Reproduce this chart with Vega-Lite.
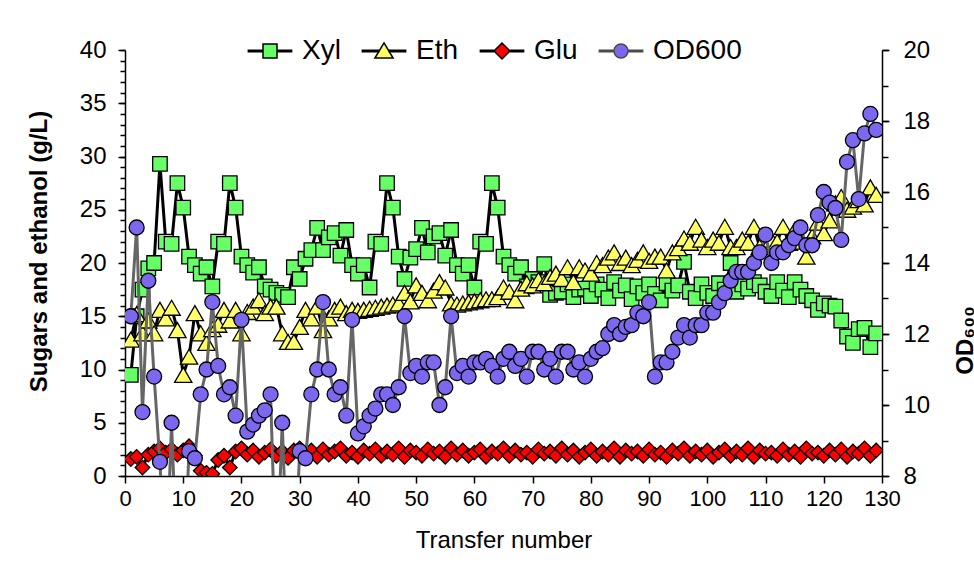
{
  "$schema": "https://vega.github.io/schema/vega-lite/v6.json",
  "autosize": "none",
  "padding": {"left": 125, "top": 50, "right": 92, "bottom": 86},
  "width": 757,
  "height": 426,
  "background": "#ffffff",
  "config": {
    "font": "Liberation Sans",
    "view": {"stroke": null},
    "axis": {"labelFont": "Liberation Sans", "titleFont": "Liberation Sans", "labelColor": "#000", "titleColor": "#000", "domainColor": "#000", "tickColor": "#000", "domainWidth": 1.5, "tickWidth": 1.5, "grid": false, "labelFontSize": 24, "titleFontSize": 24},
    "legend": {"labelFont": "Liberation Sans", "labelColor": "#000"}
  },
  "data": {"values": [
    {"t":1,"Xyl":9.5,"Eth":12.8,"Glu":1.6,"OD600":12.5},
    {"t":2,"Xyl":15.0,"Eth":15.2,"Glu":1.8,"OD600":15.0},
    {"t":3,"Xyl":17.5,"Eth":13.4,"Glu":0.8,"OD600":9.8},
    {"t":4,"Xyl":19.5,"Eth":14.6,"Glu":2.0,"OD600":13.5},
    {"t":5,"Xyl":20.0,"Eth":13.4,"Glu":2.3,"OD600":10.8},
    {"t":6,"Xyl":29.3,"Eth":15.6,"Glu":2.6,"OD600":8.4},
    {"t":7,"Xyl":22.0,"Eth":14.8,"Glu":2.2,"OD600":5},
    {"t":8,"Xyl":21.8,"Eth":15.8,"Glu":2.5,"OD600":9.5},
    {"t":9,"Xyl":27.5,"Eth":13.7,"Glu":2.0,"OD600":5},
    {"t":10,"Xyl":25.2,"Eth":9.5,"Glu":2.4,"OD600":5},
    {"t":11,"Xyl":20.6,"Eth":11.2,"Glu":2.8,"OD600":8.7},
    {"t":12,"Xyl":19.8,"Eth":15.3,"Glu":1.9,"OD600":8.5},
    {"t":13,"Xyl":19.0,"Eth":13.4,"Glu":0.5,"OD600":10.3},
    {"t":14,"Xyl":19.6,"Eth":12.5,"Glu":0.3,"OD600":11.0},
    {"t":15,"Xyl":17.8,"Eth":13.8,"Glu":0.2,"OD600":12.9},
    {"t":16,"Xyl":22.0,"Eth":14.2,"Glu":1.5,"OD600":11.1},
    {"t":17,"Xyl":21.8,"Eth":15.6,"Glu":1.9,"OD600":10.3},
    {"t":18,"Xyl":27.5,"Eth":14.6,"Glu":0.8,"OD600":10.5},
    {"t":19,"Xyl":25.2,"Eth":15.6,"Glu":2.3,"OD600":9.7},
    {"t":20,"Xyl":20.6,"Eth":13.4,"Glu":2.6,"OD600":12.4},
    {"t":21,"Xyl":19.8,"Eth":15.4,"Glu":2.0,"OD600":9.25},
    {"t":22,"Xyl":19.1,"Eth":15.9,"Glu":2.4,"OD600":9.45},
    {"t":23,"Xyl":19.6,"Eth":16.5,"Glu":1.8,"OD600":9.7},
    {"t":24,"Xyl":17.8,"Eth":15.3,"Glu":2.2,"OD600":9.85},
    {"t":25,"Xyl":17.5,"Eth":15.9,"Glu":2.5,"OD600":10.3},
    {"t":26,"Xyl":17.2,"Eth":15.9,"Glu":1.9,"OD600":5},
    {"t":27,"Xyl":17.0,"Eth":13.4,"Glu":2.3,"OD600":9.5},
    {"t":28,"Xyl":16.8,"Eth":12.6,"Glu":1.7,"OD600":5},
    {"t":29,"Xyl":19.6,"Eth":12.6,"Glu":2.4,"OD600":5},
    {"t":30,"Xyl":18.5,"Eth":14.0,"Glu":2.6,"OD600":8.7},
    {"t":31,"Xyl":20.4,"Eth":15.6,"Glu":2.1,"OD600":8.5},
    {"t":32,"Xyl":21.2,"Eth":14.8,"Glu":2.4,"OD600":10.3},
    {"t":33,"Xyl":23.3,"Eth":15.9,"Glu":1.8,"OD600":11.0},
    {"t":34,"Xyl":21.2,"Eth":13.7,"Glu":2.5,"OD600":12.9},
    {"t":35,"Xyl":22.4,"Eth":14.8,"Glu":2.0,"OD600":11.0},
    {"t":36,"Xyl":22.8,"Eth":15.6,"Glu":2.3,"OD600":10.3},
    {"t":37,"Xyl":20.7,"Eth":15.9,"Glu":2.6,"OD600":10.5},
    {"t":38,"Xyl":23.1,"Eth":15.3,"Glu":1.9,"OD600":9.7},
    {"t":39,"Xyl":19.8,"Eth":15.6,"Glu":2.2,"OD600":12.4},
    {"t":40,"Xyl":19.0,"Eth":15.5,"Glu":1.8,"OD600":9.2},
    {"t":41,"Xyl":19.8,"Eth":15.6,"Glu":2.4,"OD600":9.4},
    {"t":42,"Xyl":17.7,"Eth":15.7,"Glu":2.1,"OD600":9.7},
    {"t":43,"Xyl":22.0,"Eth":15.8,"Glu":2.5,"OD600":9.9},
    {"t":44,"Xyl":21.8,"Eth":15.9,"Glu":1.9,"OD600":10.3},
    {"t":45,"Xyl":27.5,"Eth":16.0,"Glu":2.3,"OD600":10.3},
    {"t":46,"Xyl":25.2,"Eth":16.1,"Glu":2.0,"OD600":10.0},
    {"t":47,"Xyl":20.6,"Eth":16.2,"Glu":2.6,"OD600":10.5},
    {"t":48,"Xyl":18.5,"Eth":17.2,"Glu":1.8,"OD600":12.5},
    {"t":49,"Xyl":20.5,"Eth":16.4,"Glu":2.4,"OD600":10.9},
    {"t":50,"Xyl":21.3,"Eth":17.9,"Glu":2.2,"OD600":11.1},
    {"t":51,"Xyl":23.3,"Eth":17.2,"Glu":1.9,"OD600":10.8},
    {"t":52,"Xyl":21.0,"Eth":16.5,"Glu":2.5,"OD600":11.2},
    {"t":53,"Xyl":22.5,"Eth":17.4,"Glu":2.1,"OD600":11.2},
    {"t":54,"Xyl":22.8,"Eth":18.2,"Glu":2.3,"OD600":10.0},
    {"t":55,"Xyl":20.7,"Eth":17.7,"Glu":1.8,"OD600":10.5},
    {"t":56,"Xyl":23.1,"Eth":16.2,"Glu":2.6,"OD600":12.5},
    {"t":57,"Xyl":19.8,"Eth":16.1,"Glu":2.0,"OD600":10.9},
    {"t":58,"Xyl":19.0,"Eth":16.2,"Glu":2.4,"OD600":11.1},
    {"t":59,"Xyl":19.8,"Eth":16.3,"Glu":1.9,"OD600":10.8},
    {"t":60,"Xyl":17.7,"Eth":16.4,"Glu":2.2,"OD600":11.2},
    {"t":61,"Xyl":22.0,"Eth":16.5,"Glu":2.5,"OD600":11.2},
    {"t":62,"Xyl":21.8,"Eth":16.6,"Glu":1.8,"OD600":11.3},
    {"t":63,"Xyl":27.5,"Eth":16.6,"Glu":2.3,"OD600":11.1},
    {"t":64,"Xyl":25.2,"Eth":16.8,"Glu":2.1,"OD600":10.8},
    {"t":65,"Xyl":20.6,"Eth":17.7,"Glu":2.6,"OD600":11.3},
    {"t":66,"Xyl":19.8,"Eth":17.3,"Glu":1.9,"OD600":11.5},
    {"t":67,"Xyl":19.0,"Eth":16.5,"Glu":2.4,"OD600":11.1},
    {"t":68,"Xyl":19.6,"Eth":17.6,"Glu":2.0,"OD600":11.3},
    {"t":69,"Xyl":17.8,"Eth":18.1,"Glu":2.2,"OD600":10.8},
    {"t":70,"Xyl":18.5,"Eth":17.9,"Glu":1.8,"OD600":11.5},
    {"t":71,"Xyl":18.2,"Eth":18.4,"Glu":2.5,"OD600":11.5},
    {"t":72,"Xyl":19.9,"Eth":18.1,"Glu":2.1,"OD600":11.0},
    {"t":73,"Xyl":17.0,"Eth":18.7,"Glu":2.3,"OD600":11.3},
    {"t":74,"Xyl":17.2,"Eth":19.0,"Glu":1.9,"OD600":10.8},
    {"t":75,"Xyl":17.3,"Eth":18.5,"Glu":2.6,"OD600":11.5},
    {"t":76,"Xyl":18.0,"Eth":19.6,"Glu":2.0,"OD600":11.5},
    {"t":77,"Xyl":16.8,"Eth":18.2,"Glu":2.4,"OD600":11.0},
    {"t":78,"Xyl":17.5,"Eth":19.6,"Glu":1.8,"OD600":11.2},
    {"t":79,"Xyl":17.6,"Eth":19.3,"Glu":2.2,"OD600":10.8},
    {"t":80,"Xyl":16.9,"Eth":19.0,"Glu":2.5,"OD600":11.3},
    {"t":81,"Xyl":18.0,"Eth":20.0,"Glu":1.9,"OD600":11.5},
    {"t":82,"Xyl":17.5,"Eth":19.8,"Glu":2.3,"OD600":11.6},
    {"t":83,"Xyl":16.7,"Eth":20.5,"Glu":2.0,"OD600":12.0},
    {"t":84,"Xyl":18.2,"Eth":21.0,"Glu":2.6,"OD600":12.25},
    {"t":85,"Xyl":17.4,"Eth":20.0,"Glu":1.8,"OD600":12.0},
    {"t":86,"Xyl":17.9,"Eth":20.5,"Glu":2.4,"OD600":12.2},
    {"t":87,"Xyl":16.6,"Eth":19.8,"Glu":2.1,"OD600":12.25},
    {"t":88,"Xyl":17.8,"Eth":20.3,"Glu":2.3,"OD600":12.6},
    {"t":89,"Xyl":17.2,"Eth":21.0,"Glu":1.9,"OD600":12.5},
    {"t":90,"Xyl":18.0,"Eth":20.2,"Glu":2.5,"OD600":12.9},
    {"t":91,"Xyl":17.1,"Eth":20.6,"Glu":2.0,"OD600":10.8},
    {"t":92,"Xyl":16.5,"Eth":20.6,"Glu":2.2,"OD600":11.2},
    {"t":93,"Xyl":18.1,"Eth":19.3,"Glu":1.8,"OD600":11.2},
    {"t":94,"Xyl":17.4,"Eth":21.0,"Glu":2.4,"OD600":11.5},
    {"t":95,"Xyl":17.9,"Eth":21.4,"Glu":2.1,"OD600":11.9},
    {"t":96,"Xyl":20.1,"Eth":22.3,"Glu":2.6,"OD600":12.25},
    {"t":97,"Xyl":17.3,"Eth":21.9,"Glu":1.9,"OD600":11.9},
    {"t":98,"Xyl":16.7,"Eth":23.4,"Glu":2.3,"OD600":12.25},
    {"t":99,"Xyl":18.0,"Eth":22.2,"Glu":2.0,"OD600":12.25},
    {"t":100,"Xyl":17.2,"Eth":21.5,"Glu":2.4,"OD600":12.6},
    {"t":101,"Xyl":16.9,"Eth":22.2,"Glu":1.8,"OD600":12.6},
    {"t":102,"Xyl":18.1,"Eth":21.9,"Glu":2.2,"OD600":12.9},
    {"t":103,"Xyl":17.5,"Eth":23.4,"Glu":2.5,"OD600":13.15},
    {"t":104,"Xyl":20.0,"Eth":21.5,"Glu":1.9,"OD600":13.5},
    {"t":105,"Xyl":17.3,"Eth":21.5,"Glu":2.3,"OD600":13.75},
    {"t":106,"Xyl":18.0,"Eth":22.2,"Glu":2.0,"OD600":13.75},
    {"t":107,"Xyl":17.6,"Eth":21.9,"Glu":2.6,"OD600":13.75},
    {"t":108,"Xyl":18.2,"Eth":23.4,"Glu":1.8,"OD600":14.0},
    {"t":109,"Xyl":17.9,"Eth":21.5,"Glu":2.4,"OD600":14.3},
    {"t":110,"Xyl":17.3,"Eth":21.5,"Glu":2.1,"OD600":14.8},
    {"t":111,"Xyl":16.9,"Eth":22.2,"Glu":2.2,"OD600":14.0},
    {"t":112,"Xyl":18.2,"Eth":22.0,"Glu":1.9,"OD600":14.3},
    {"t":113,"Xyl":17.4,"Eth":23.4,"Glu":2.5,"OD600":14.3},
    {"t":114,"Xyl":16.8,"Eth":21.9,"Glu":2.0,"OD600":14.5},
    {"t":115,"Xyl":18.2,"Eth":23.1,"Glu":2.3,"OD600":14.7},
    {"t":116,"Xyl":17.5,"Eth":22.0,"Glu":1.8,"OD600":15.0},
    {"t":117,"Xyl":16.9,"Eth":20.6,"Glu":2.6,"OD600":14.5},
    {"t":118,"Xyl":16.5,"Eth":22.5,"Glu":2.1,"OD600":14.5},
    {"t":119,"Xyl":15.6,"Eth":23.8,"Glu":2.2,"OD600":15.35},
    {"t":120,"Xyl":16.2,"Eth":22.8,"Glu":1.9,"OD600":16.0},
    {"t":121,"Xyl":16.0,"Eth":24.0,"Glu":2.4,"OD600":15.7},
    {"t":122,"Xyl":15.9,"Eth":25.6,"Glu":2.0,"OD600":15.55},
    {"t":123,"Xyl":14.6,"Eth":26.2,"Glu":2.5,"OD600":14.65},
    {"t":124,"Xyl":13.1,"Eth":25.0,"Glu":1.8,"OD600":16.85},
    {"t":125,"Xyl":12.5,"Eth":25.3,"Glu":2.3,"OD600":17.46},
    {"t":126,"Xyl":13.8,"Eth":25.9,"Glu":2.1,"OD600":15.8},
    {"t":127,"Xyl":13.9,"Eth":25.5,"Glu":2.6,"OD600":17.65},
    {"t":128,"Xyl":12.1,"Eth":27.1,"Glu":1.9,"OD600":18.2},
    {"t":129,"Xyl":13.4,"Eth":26.4,"Glu":2.4,"OD600":17.75}
  ]},
  "transform": [{"fold": ["Xyl", "Eth", "Glu", "OD600"], "as": ["s", "v"]}],
  "encoding": {
    "x": {"field": "t", "type": "quantitative", "scale": {"domain": [0, 130], "nice": false, "zero": false},
      "axis": {"values": [0,10,20,30,40,50,60,70,80,90,100,110,120,130], "title": "Transfer number", "tickSize": 7, "labelPadding": 5, "labelFontSize": 22, "labelFlush": false, "titleFontWeight": "normal", "titleFontSize": 24, "titleBaseline": "middle", "titleY": 64}}
  },
  "layer": [
    {"transform": [{"filter": "datum.s === 'Xyl'"}],
     "mark": {"type": "line", "stroke": "#000", "strokeWidth": 3, "clip": true},
     "encoding": {
       "y": {"field": "v", "type": "quantitative", "scale": {"domain": [0, 40], "nice": false, "zero": false},
         "axis": {"orient": "left", "values": [0,5,10,15,20,25,30,35,40], "tickSize": 7, "labelPadding": 12, "title": "Sugars and ethanol (g/L)", "titleFontWeight": "bold", "titleX": -86, "titleY": 201, "titleBaseline": "middle", "titleAlign": "center"}}
     }},
    {"transform": [{"filter": "datum.s === 'Xyl'"}],
     "mark": {"type": "point", "filled": true, "shape": "square", "size": 210, "stroke": "#000", "strokeWidth": 1.3, "opacity": 1, "clip": true},
     "encoding": {
       "y": {"field": "v", "type": "quantitative", "scale": {"domain": [0, 40], "nice": false, "zero": false},
         "axis": {"orient": "left", "values": [0,1,2,3,4,5,6,7,8,9,10,11,12,13,14,15,16,17,18,19,20,21,22,23,24,25,26,27,28,29,30,31,32,33,34,35,36,37,38,39,40], "tickSize": 5, "labels": false, "domain": false, "title": null}},
       "fill": {"field": "s", "type": "nominal", "scale": {"domain": ["Xyl", "Eth", "Glu", "OD600"], "range": ["#66FF66", "#FFFF66", "#FF0000", "#7B68EE"]},
         "legend": {"title": null, "orient": "none", "legendX": 131, "legendY": -13, "direction": "horizontal", "symbolSize": 196, "symbolStrokeColor": "#000", "symbolStrokeWidth": 1.5, "symbolOpacity": 1, "labelFontSize": 28, "labelOffset": 18, "columnPadding": 17, "padding": 0,
           "encoding": {"symbols": {
             "shape": {"value": {"expr": "datum.value === 'Xyl' ? 'M-3.2,-0.1H-1M-3.2,0.1H-1M1,-0.1H3.2M1,0.1H3.2M-1,-1H1V1H-1Z' : datum.value === 'Eth' ? 'M-3.2,-0.1H-0.62M-3.2,0.1H-0.62M0.62,-0.1H3.2M0.62,0.1H3.2M0,-1.15L1.3,1L-1.3,1Z' : datum.value === 'Glu' ? 'M-3.2,-0.1H-1.15M-3.2,0.1H-1.15M1.15,-0.1H3.2M1.15,0.1H3.2M0,-1.15L1.15,0L0,1.15L-1.15,0Z' : 'M-3.2,-0.1H-1M-3.2,0.1H-1M1,-0.1H3.2M1,0.1H3.2M-1,0A1,1 0 1,0 1,0A1,1 0 1,0 -1,0Z'"}},
             "stroke": {"value": {"expr": "datum.value === 'OD600' ? '#4a4a4a' : '#000000'"}},
             "strokeWidth": {"value": 1.5},
             "size": {"value": 196}
           }}}}
     }},
    {"transform": [{"filter": "datum.s === 'Eth'"}],
     "mark": {"type": "line", "stroke": "#000", "strokeWidth": 3, "clip": true},
     "encoding": {
       "y": {"field": "v", "type": "quantitative", "scale": {"domain": [0, 40], "nice": false, "zero": false}, "axis": null}
     }},
    {"transform": [{"filter": "datum.s === 'Eth'"}],
     "mark": {"type": "point", "filled": true, "shape": "triangle-up", "size": 300, "stroke": "#000", "strokeWidth": 1.3, "opacity": 1, "clip": true},
     "encoding": {
       "y": {"field": "v", "type": "quantitative", "scale": {"domain": [0, 40], "nice": false, "zero": false}, "axis": null},
       "fill": {"field": "s", "type": "nominal", "scale": {"domain": ["Xyl", "Eth", "Glu", "OD600"], "range": ["#66FF66", "#FFFF66", "#FF0000", "#7B68EE"]}}
     }},
    {"transform": [{"filter": "datum.s === 'Glu'"}],
     "mark": {"type": "line", "stroke": "#000", "strokeWidth": 3, "clip": true},
     "encoding": {
       "y": {"field": "v", "type": "quantitative", "scale": {"domain": [0, 40], "nice": false, "zero": false}, "axis": null}
     }},
    {"transform": [{"filter": "datum.s === 'Glu'"}],
     "mark": {"type": "point", "filled": true, "shape": "diamond", "size": 210, "stroke": "#000", "strokeWidth": 1.3, "opacity": 1, "clip": true},
     "encoding": {
       "y": {"field": "v", "type": "quantitative", "scale": {"domain": [0, 40], "nice": false, "zero": false}, "axis": null},
       "fill": {"field": "s", "type": "nominal", "scale": {"domain": ["Xyl", "Eth", "Glu", "OD600"], "range": ["#66FF66", "#FFFF66", "#FF0000", "#7B68EE"]}}
     }},
    {"transform": [{"filter": "datum.s === 'OD600'"}],
     "mark": {"type": "line", "stroke": "#666666", "strokeWidth": 3, "clip": true},
     "encoding": {
       "y": {"field": "v", "type": "quantitative", "scale": {"domain": [8, 20], "nice": false, "zero": false},
         "axis": {"orient": "right", "values": [8,10,12,14,16,18,20], "tickSize": 7, "labelPadding": 14, "title": "OD₆₀₀", "titleFontWeight": "bold", "titleAngle": 270, "titleX": 90, "titleY": 290, "titleBaseline": "alphabetic", "titleAlign": "center"}}
     }},
    {"transform": [{"filter": "datum.s === 'OD600'"}],
     "mark": {"type": "point", "filled": true, "shape": "circle", "size": 225, "stroke": "#000", "strokeWidth": 1.3, "opacity": 1, "clip": true},
     "encoding": {
       "y": {"field": "v", "type": "quantitative", "scale": {"domain": [8, 20], "nice": false, "zero": false},
         "axis": {"orient": "right", "values": [8,9,10,11,12,13,14,15,16,17,18,19,20], "tickSize": 6, "labels": false, "domain": false, "title": null}},
       "fill": {"field": "s", "type": "nominal", "scale": {"domain": ["Xyl", "Eth", "Glu", "OD600"], "range": ["#66FF66", "#FFFF66", "#FF0000", "#7B68EE"]}}
     }}
  ],
  "resolve": {"scale": {"y": "independent"}}
}
